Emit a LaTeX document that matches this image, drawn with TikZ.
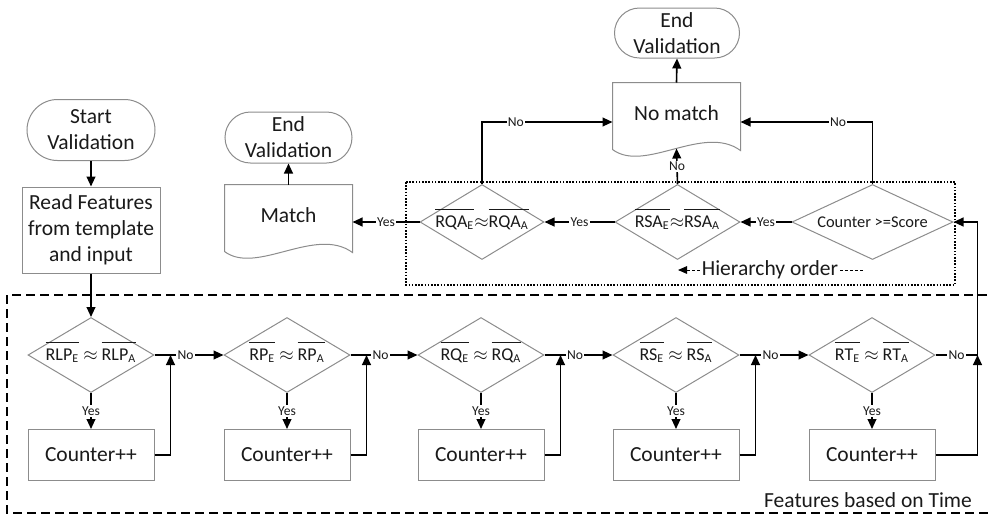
\documentclass[tikz,border=0pt]{standalone}
\usepackage{fontspec}
\setmainfont{Carlito}
\usetikzlibrary{shapes.geometric,shapes.misc,arrows.meta,calc}
\definecolor{boxgray}{HTML}{8C8C8C}
\definecolor{txt}{HTML}{1A1A1A}
\newcommand\ovl[1]{\ensuremath{\overline{\mbox{\rule{0pt}{8pt}#1}}}}
\newcommand\dtext[1]{\raisebox{-0.33em}[0pt][0pt]{\makebox[0pt]{#1}}}
\begin{document}
\begin{tikzpicture}[x=0.5pt,y=-0.5pt,
  bigfont/.style={font=\fontsize{10.75}{13}\selectfont},
  box/.style={draw=boxgray, line width=0.5pt, fill=white, text=txt, bigfont, align=center, inner sep=0pt},
  stadium/.style={box, rounded rectangle},
  decision/.style={draw=boxgray, line width=0.5pt, diamond, inner sep=0pt, text=txt, font=\fontsize{9}{11}\selectfont},
  boxline/.style={draw=boxgray, line width=0.5pt},
  conn/.style={line width=0.8pt, draw=black, -{Triangle[length=5pt,width=4.4pt]}},
  plainline/.style={line width=0.8pt, draw=black},
  lab/.style={fill=white, inner sep=0.6pt, font=\fontsize{6.8}{8}\selectfont, text=txt},
  hdash/.style={line width=0.5pt, dash pattern=on 1.5pt off 1pt}
]
\useasboundingbox (0,0) rectangle (992,516);

% frames
\draw[line width=0.9pt, dash pattern=on 4.5pt off 2.5pt] (7,295) rectangle (1000,513);
\draw[line width=0.7pt, dash pattern=on 0.8pt off 0.8pt] (406,182) rectangle (955,285);

% start column
\node[stadium, minimum width=64pt, minimum height=30.5pt] (start) at (91,130) {Start\\Validation};
\node[box, minimum width=69pt, minimum height=43pt] (read) at (91,230) {Read Features\\from template\\and input};

% decisions (time features)
\node[decision, minimum width=63pt, minimum height=37.5pt] (d1) at (91,355) {\dtext{\ovl{RLP\textsubscript{E}} $\approx$ \ovl{RLP\textsubscript{A}}}};
\node[decision, minimum width=63pt, minimum height=37.5pt] (d2) at (287,355) {\dtext{\ovl{RP\textsubscript{E}} $\approx$ \ovl{RP\textsubscript{A}}}};
\node[decision, minimum width=63pt, minimum height=37.5pt] (d3) at (481,355) {\dtext{\ovl{RQ\textsubscript{E}} $\approx$ \ovl{RQ\textsubscript{A}}}};
\node[decision, minimum width=63pt, minimum height=37.5pt] (d4) at (676,355) {\dtext{\ovl{RS\textsubscript{E}} $\approx$ \ovl{RS\textsubscript{A}}}};
\node[decision, minimum width=63pt, minimum height=37.5pt] (d5) at (872,355) {\dtext{\ovl{RT\textsubscript{E}} $\approx$ \ovl{RT\textsubscript{A}}}};

\foreach \i/\x in {1/91,2/287,3/481,4/676,5/872}{
  \node[box, minimum width=63pt, minimum height=25.5pt] (c\i) at (\x,455) {Counter++};
}

% hierarchy decisions
\node[decision, minimum width=80.5pt, minimum height=37.5pt, font=\fontsize{8.2}{10}\selectfont] (cs) at (872.5,222) {\dtext{Counter >=Score}};
\node[decision, minimum width=62.5pt, minimum height=37.5pt] (rsa) at (677.5,222) {\dtext{\ovl{RSA\textsubscript{E}}$\approx$\ovl{RSA\textsubscript{A}}}};
\node[decision, minimum width=62pt, minimum height=37.5pt] (rqa) at (482,222) {\dtext{\ovl{RQA\textsubscript{E}}$\approx$\ovl{RQA\textsubscript{A}}}};

% documents
\node[box, draw=none, minimum width=63.5pt, minimum height=30pt] (match) at (288.5,215) {Match};
\draw[boxline] ($(match.south west)+(0,6)$) -- (match.north west) -- (match.north east) -- ($(match.south east)+(0,7)$)
  .. controls ($(match.south east)+(-37,-20)$) and ($(match.south west)+(32,30)$) .. ($(match.south west)+(0,6)$);
\node[box, draw=none, minimum width=63.5pt, minimum height=30pt] (nomatch) at (676.5,113) {No match};
\draw[boxline] ($(nomatch.south west)+(0,6)$) -- (nomatch.north west) -- (nomatch.north east) -- ($(nomatch.south east)+(0,7)$)
  .. controls ($(nomatch.south east)+(-37,-20)$) and ($(nomatch.south west)+(32,30)$) .. ($(nomatch.south west)+(0,6)$);

\node[stadium, minimum width=63.5pt, minimum height=25.5pt] (endl) at (288.5,137.5) {End\\Validation};
\node[stadium, minimum width=62.5pt, minimum height=25pt] (endt) at (677,33) {End\\Validation};

% hierarchy order label
\node[bigfont, text=txt, inner sep=1pt] (hier) at (770,270) {Hierarchy order};
\coordinate (hl) at (678,270);
\coordinate (hr) at (865,270);
\draw[hdash, -{Triangle[length=4.5pt,width=3.8pt]}] (hier.west) -- (hl);
\draw[hdash] (hier.east) -- (hr);

\node[bigfont, text=txt, inner sep=0pt] (feat) at (868,500) {Features based on Time};

% connectors
\draw[conn] (start.south) -- (read.north);
\draw[conn] (read.south) -- (d1.north);
\draw[conn] (match.north) -- (endl.south);
\draw[conn] (nomatch.north) -- (endt.south);

\foreach \i in {1,...,5}{
  \draw[conn] (d\i.south) -- node[lab]{Yes} (c\i.north);
  \coordinate (j\i) at ($(d\i.east)+(16,0)$);
}
\coordinate (j5) at ($(d5.east)+(42,0)$);
\foreach \i/\n in {1/2,2/3,3/4,4/5}{
  \draw[conn] (d\i.east) -- node[lab, pos=0.45]{No} (d\n.west);
  \draw[conn] (c\i.east) -| (j\i);
}
\draw[plainline] (d5.east) -- node[lab]{No} (j5);
\draw[conn] (c5.east) -| (j5);
\draw[conn] (j5) |- (cs.east);

\draw[conn] (cs.west) -- node[lab]{Yes} (rsa.east);
\draw[conn] (rsa.west) -- node[lab]{Yes} (rqa.east);
\draw[conn] (rqa.west) -- node[lab]{Yes} (rqa.west -| match.east);

\coordinate (nmL) at ($(nomatch.west)+(0,9)$);
\coordinate (nmR) at ($(nomatch.east)+(0,9)$);
\draw[conn] (rqa.north) |- node[lab, pos=0.63]{No} (nmL);
\draw[conn] (cs.north) |- node[lab, pos=0.63]{No} (nmR);
\draw[conn] (rsa.north) -- node[lab]{No} ($(nomatch.south)+(0,5)$);
\end{tikzpicture}
\end{document}
